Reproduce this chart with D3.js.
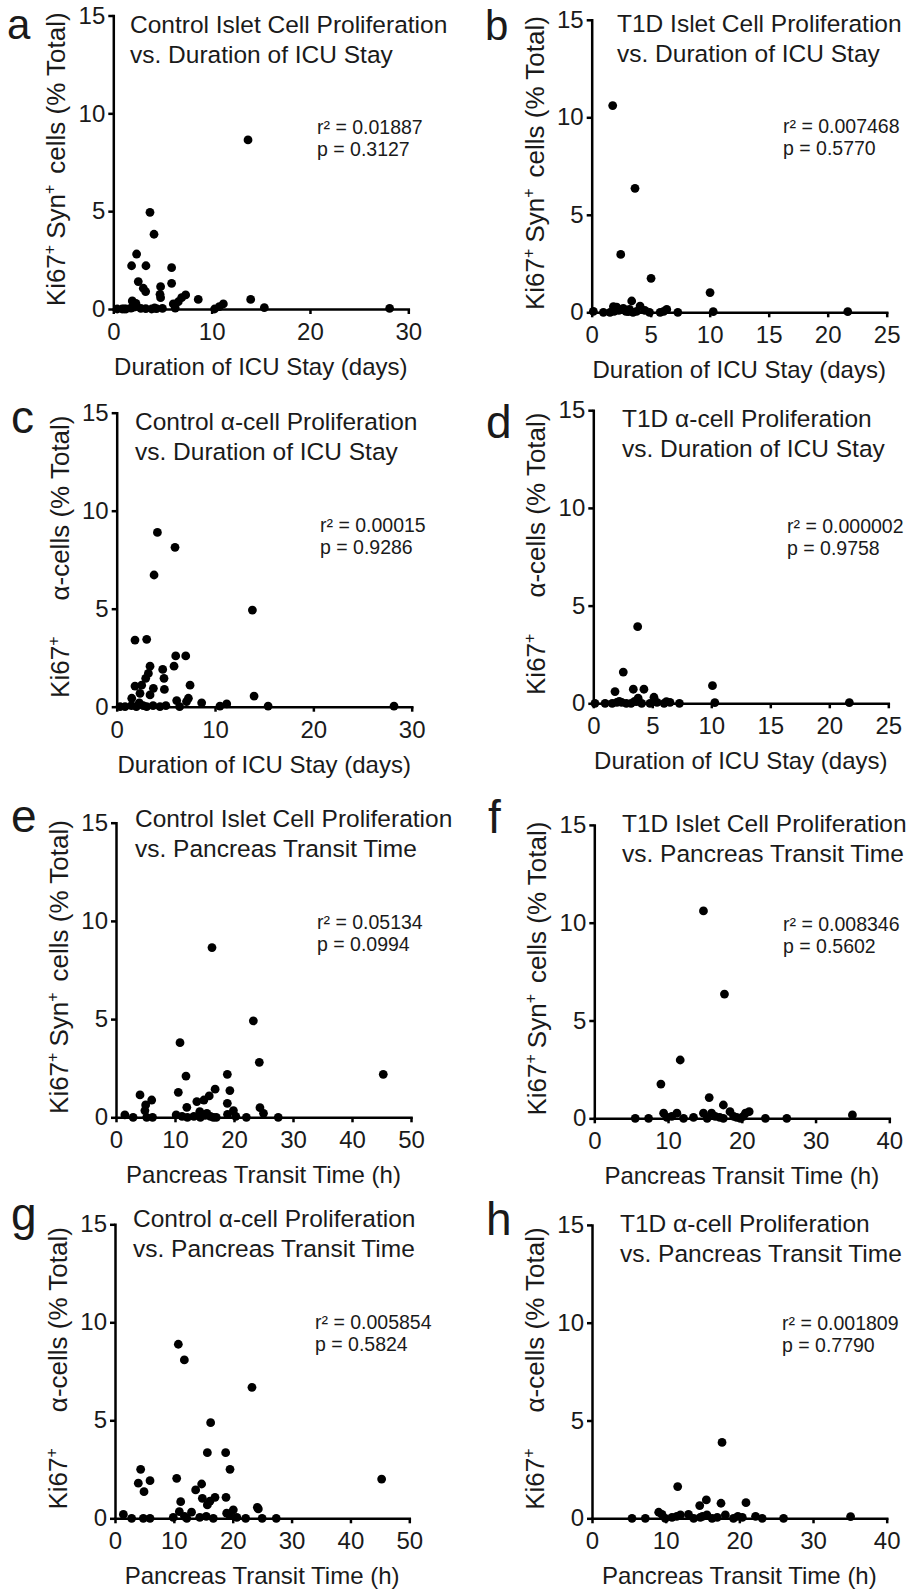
<!DOCTYPE html>
<html><head><meta charset="utf-8">
<script src="https://cdn.jsdelivr.net/npm/d3@7"></script>
<style>
body{margin:0;background:#fff}
svg{display:block}
text{font-family:"Liberation Sans",Arial,Helvetica,sans-serif;fill:#1a1a1a}
</style>
</head><body>
<svg id="chart" width="909" height="1592"></svg>
<script>
// ---------------- DATA ----------------
const yTicks = [0, 5, 10, 15];
const icuTicksControl = [0, 10, 20, 30];
const icuTicksT1D = [0, 5, 10, 15, 20, 25];
const transitTicksControl = [0, 10, 20, 30, 40, 50];
const transitTicksT1D = [0, 10, 20, 30, 40];

const panelLetters = ["a", "b", "c", "d", "e", "f", "g", "h"];
const panelTitles = [
  ["Control Islet Cell Proliferation", "vs. Duration of ICU Stay"],
  ["T1D Islet Cell Proliferation", "vs. Duration of ICU Stay"],
  ["Control α-cell Proliferation", "vs. Duration of ICU Stay"],
  ["T1D α-cell Proliferation", "vs. Duration of ICU Stay"],
  ["Control Islet Cell Proliferation", "vs. Pancreas Transit Time"],
  ["T1D Islet Cell Proliferation", "vs. Pancreas Transit Time"],
  ["Control α-cell Proliferation", "vs. Pancreas Transit Time"],
  ["T1D α-cell Proliferation", "vs. Pancreas Transit Time"]
];
const r2Values = ["0.01887", "0.007468", "0.00015", "0.000002", "0.05134", "0.008346", "0.005854", "0.001809"];
const pValues = ["0.3127", "0.5770", "0.9286", "0.9758", "0.0994", "0.5602", "0.5824", "0.7790"];
const xAxisTitles = ["Duration of ICU Stay (days)", "Duration of ICU Stay (days)",
  "Duration of ICU Stay (days)", "Duration of ICU Stay (days)",
  "Pancreas Transit Time (h)", "Pancreas Transit Time (h)",
  "Pancreas Transit Time (h)", "Pancreas Transit Time (h)"];
const yAxisKinds = ["syn", "syn", "alpha", "alpha", "syn", "syn", "alpha", "alpha"];
const xDomainMax = [30, 25, 30, 25, 50, 40, 50, 40];

// a: Control islet vs ICU stay
const ctrlIsletICU = [[13.7,8.64],[3.73,4.94],[4.14,3.82],[2.37,2.81],[1.86,2.21],[3.32,2.21],[5.93,2.11],[5.93,1.31],[2.54,1.40],[3.05,1.06],[3.29,0.89],[4.81,1.14],[4.75,0.75],[4.81,0.58],[1.93,0.41],[2.3,0.29],[7.36,0.72],[6.95,0.58],[6.61,0.37],[6.1,0.26],[8.64,0.49],[13.97,0.49],[11.19,0.26],[10.78,0.12],[15.36,0.07],[28.1,0.03],[0.4,0],[0.9,0],[1.3,0],[1.8,0.05],[2.8,0.03],[3.3,0.02],[3.9,0],[4.4,0.02],[5.0,0.03],[6.3,0.05],[10.3,0],[1.1,0],[2.1,0.1],[4.2,0.05]];
// b: T1D islet vs ICU stay
const t1dIsletICU = [[1.78,10.6],[3.67,6.36],[2.46,2.97],[5.03,1.74],[10.03,1.01],[3.39,0.58],[4.1,0.32],[1.84,0.29],[2.12,0.26],[2.68,0.2],[6.36,0.15],[10.3,0.03],[21.7,0.03],[0.14,0.05],[0.99,0],[1.55,0],[3.1,0.03],[3.5,0],[4.9,0],[5.8,0],[6.1,0.05],[7.3,0],[3.8,0.05],[2.3,0.1],[1.9,0.05],[2.9,0.05],[4.5,0.1],[3.2,0.15]];
// c: Control alpha vs ICU stay
const ctrlAlphaICU = [[4.14,8.89],[5.93,8.13],[3.8,6.72],[13.8,4.93],[1.86,3.4],[3.05,3.44],[6.0,2.59],[7.02,2.59],[5.83,2.07],[3.39,2.07],[4.68,1.9],[4.81,1.45],[3.22,1.7],[2.95,1.45],[1.86,1.05],[2.54,1.1],[7.46,1.1],[3.73,0.94],[4.85,0.88],[2.37,0.68],[3.39,0.6],[1.53,0.43],[13.97,0.54],[7.29,0.43],[6.1,0.31],[7.1,0.26],[8.64,0.2],[11.19,0.14],[10.5,0.03],[15.4,0.03],[28.2,0.03],[0.34,0],[0.85,0],[1.5,0.05],[2.0,0],[2.7,0.05],[3.05,0],[3.7,0.05],[4.4,0],[5.0,0.05],[6.4,0],[2.3,0.2]];
// d: T1D alpha vs ICU stay
const t1dAlphaICU = [[3.76,3.92],[2.54,1.6],[1.84,0.6],[3.39,0.72],[4.29,0.72],[10.1,0.9],[3.8,0.26],[5.14,0.31],[3.67,0.09],[6.2,0.09],[10.3,0.03],[21.7,0.03],[0.14,0],[1.0,0],[1.6,0],[2.0,0.05],[2.4,0.05],[2.8,0],[3.2,0],[4.1,0],[4.8,0],[5.4,0.05],[6.0,0],[6.5,0.05],[7.3,0],[3.5,0.1],[2.2,0.1]];
// e: Control islet vs transit time
const ctrlIsletTransit = [[16.27,8.64],[23.28,4.91],[10.85,3.8],[24.29,2.8],[45.3,2.19],[18.87,2.19],[11.86,2.1],[16.8,1.43],[19.3,1.36],[10.56,1.27],[4.07,1.14],[15.8,1.09],[14.9,0.88],[13.7,0.8],[6.05,0.88],[18.87,0.71],[5.03,0.63],[24.4,0.49],[12.0,0.51],[4.9,0.34],[14.2,0.29],[19.9,0.34],[15.4,0.2],[25.0,0.2],[1.5,0.12],[10.2,0.12],[2.9,0],[5.2,0],[6.2,0],[12.1,0],[13.2,0.05],[14.3,0],[16.0,0.05],[17.0,0],[20.3,0.05],[22.1,0],[27.5,0],[15.1,0.1],[16.5,0],[18.9,0.15],[11.2,0.05]];
// f: T1D islet vs transit time
const t1dIsletTransit = [[14.8,10.6],[17.65,6.35],[11.65,2.98],[9.03,1.75],[15.58,1.06],[17.5,0.68],[21.0,0.34],[18.4,0.34],[9.4,0.26],[11.2,0.26],[14.8,0.26],[15.9,0.26],[20.5,0.26],[35.0,0.17],[5.55,0],[7.36,0],[9.84,0.05],[12.1,0],[13.45,0.05],[15.3,0],[17.0,0.05],[17.5,0],[19.3,0.05],[19.8,0],[23.2,0],[26.1,0],[10.5,0.1],[16.4,0.1],[18.9,0.1],[20.2,0.1]];
// g: Control alpha vs transit time
const ctrlAlphaTransit = [[10.76,8.88],[11.78,8.08],[23.27,6.68],[16.25,4.88],[15.69,3.35],[18.8,3.35],[4.36,2.5],[19.54,2.5],[45.3,2.0],[10.48,2.04],[5.95,1.92],[3.96,1.79],[14.72,1.75],[4.93,1.36],[13.7,1.45],[16.99,1.07],[18.86,1.07],[14.84,1.02],[16.14,0.88],[11.16,0.85],[15.69,0.68],[24.18,0.56],[24.35,0.48],[20.1,0.43],[10.93,0.34],[13.0,0.31],[18.97,0.26],[1.42,0.2],[2.83,0],[4.81,0],[5.95,0],[9.9,0.05],[12.2,0],[14.4,0.05],[16.7,0],[20.7,0.05],[22.2,0],[25.0,0],[27.4,0],[15.5,0.1],[11.8,0.1],[19.5,0.15]];
// h: T1D alpha vs transit time
const t1dAlphaTransit = [[17.65,3.88],[11.63,1.62],[15.52,0.94],[14.62,0.65],[17.51,0.77],[20.9,0.8],[9.05,0.31],[9.5,0.2],[13.1,0.2],[12.0,0.17],[15.6,0.17],[18.1,0.17],[35.1,0.09],[5.43,0],[7.24,0],[9.95,0],[10.86,0.05],[13.8,0],[14.7,0.05],[16.3,0],[17.0,0.05],[19.2,0],[20.4,0.05],[22.2,0.1],[23.1,0],[26.0,0],[11.5,0.1],[15.0,0.1],[19.8,0.1]];

const panelData = [ctrlIsletICU, t1dIsletICU, ctrlAlphaICU, t1dAlphaICU,
  ctrlIsletTransit, t1dIsletTransit, ctrlAlphaTransit, t1dAlphaTransit];
const panelXTicks = [icuTicksControl, icuTicksT1D, icuTicksControl, icuTicksT1D,
  transitTicksControl, transitTicksT1D, transitTicksControl, transitTicksT1D];

// ---------------- LAYOUT (pixels) ----------------
const layout = [
  {left:113.3, right:408.3, y0:309.0, y15:15.5,  letter:[7,39],    title:[130,33],   stats:[317,134]},
  {left:591.7, right:886.7, y0:312.3, y15:19.8,  letter:[485,40],  title:[617,32],   stats:[783,133]},
  {left:116.7, right:411.7, y0:706.7, y15:412.7, letter:[11,433],  title:[135,430],  stats:[320,532]},
  {left:593.3, right:888.3, y0:703.3, y15:410.2, letter:[486,438], title:[622,427],  stats:[787,533]},
  {left:116.0, right:411.0, y0:1117.3,y15:822.7, letter:[11,832],  title:[135,827],  stats:[317,929]},
  {left:594.3, right:889.3, y0:1118.3,y15:824.9, letter:[488,833], title:[622,832],  stats:[783,931]},
  {left:115.0, right:409.3, y0:1518.3,y15:1224.3,letter:[11,1230], title:[133,1227], stats:[315,1329]},
  {left:592.0, right:886.7, y0:1518.3,y15:1224.9,letter:[486,1235],title:[620,1232], stats:[782,1330]}
];

const svg = d3.select("#chart");
const AXIS_W = 2.5, TICK = 5, DOT_R = 4.4;

panelData.forEach((pts, i) => {
  const L = layout[i];
  const g = svg.append("g");
  const x = d3.scaleLinear().domain([0, xDomainMax[i]]).range([L.left, L.right]);
  const y = d3.scaleLinear().domain([0, 15]).range([L.y0, L.y15]);

  // axes
  const xAxis = d3.axisBottom(x).tickValues(panelXTicks[i]).tickSize(TICK).tickSizeOuter(0).tickPadding(9).tickFormat(d3.format("d"));
  const yAxis = d3.axisLeft(y).tickValues(yTicks).tickSize(TICK).tickSizeOuter(0).tickPadding(3).tickFormat(d3.format("d"));
  const gx = g.append("g").attr("transform", `translate(0,${L.y0})`).call(xAxis);
  const gy = g.append("g").attr("transform", `translate(${L.left},0)`).call(yAxis);
  [gx, gy].forEach(a => {
    a.attr("font-family", null).attr("font-size", null);
    a.select(".domain").attr("stroke", "#000").attr("stroke-width", AXIS_W).attr("stroke-linecap", "square");
    a.selectAll(".tick line").attr("stroke", "#000").attr("stroke-width", AXIS_W);
    a.selectAll(".tick text").style("font-size", "24px").attr("fill", "#1a1a1a");
  });

  // points
  g.append("g").selectAll("circle").data(pts).join("circle")
    .attr("cx", d => x(d[0])).attr("cy", d => y(d[1])).attr("r", DOT_R).attr("fill", "#000");

  // panel letter
  g.append("text").attr("x", L.letter[0]).attr("y", L.letter[1])
    .style("font-size", i < 2 ? "42px" : "46px").text(panelLetters[i]);

  // title
  const t = g.append("text").attr("x", L.title[0]).attr("y", L.title[1]).style("font-size", "24.5px");
  t.append("tspan").attr("x", L.title[0]).text(panelTitles[i][0]);
  t.append("tspan").attr("x", L.title[0]).attr("dy", 29.5).text(panelTitles[i][1]);

  // stats
  const s = g.append("text").attr("x", L.stats[0]).attr("y", L.stats[1]).style("font-size", "19.5px");
  s.append("tspan").attr("x", L.stats[0]).text("r² = " + r2Values[i]);
  s.append("tspan").attr("x", L.stats[0]).attr("dy", 21.5).text("p = " + pValues[i]);

  // x axis title
  g.append("text").attr("x", (L.left + L.right) / 2).attr("y", L.y0 + 66)
    .attr("text-anchor", "middle").style("font-size", "24px").text(xAxisTitles[i]);

  // y axis title (rotated)
  const cy = (L.y0 + L.y15) / 2 - 3;
  const yl = g.append("text").attr("transform", `translate(${L.left - 48},${cy}) rotate(-90)`)
    .attr("text-anchor", "middle").style("font-size", "26px");
  yl.append("tspan").text("Ki67");
  yl.append("tspan").attr("dy", -10).style("font-size", "16px").text("+");
  if (yAxisKinds[i] === "syn") {
    yl.append("tspan").attr("dy", 10).attr("dx", 6).text("Syn");
    yl.append("tspan").attr("dy", -10).style("font-size", "16px").text("+");
    yl.append("tspan").attr("dy", 10).attr("dx", 11).text("cells (% Total)");
  } else {
    yl.append("tspan").attr("dy", 10).attr("dx", 36).text("α-cells (% Total)");
  }
});
</script>
</body></html>
